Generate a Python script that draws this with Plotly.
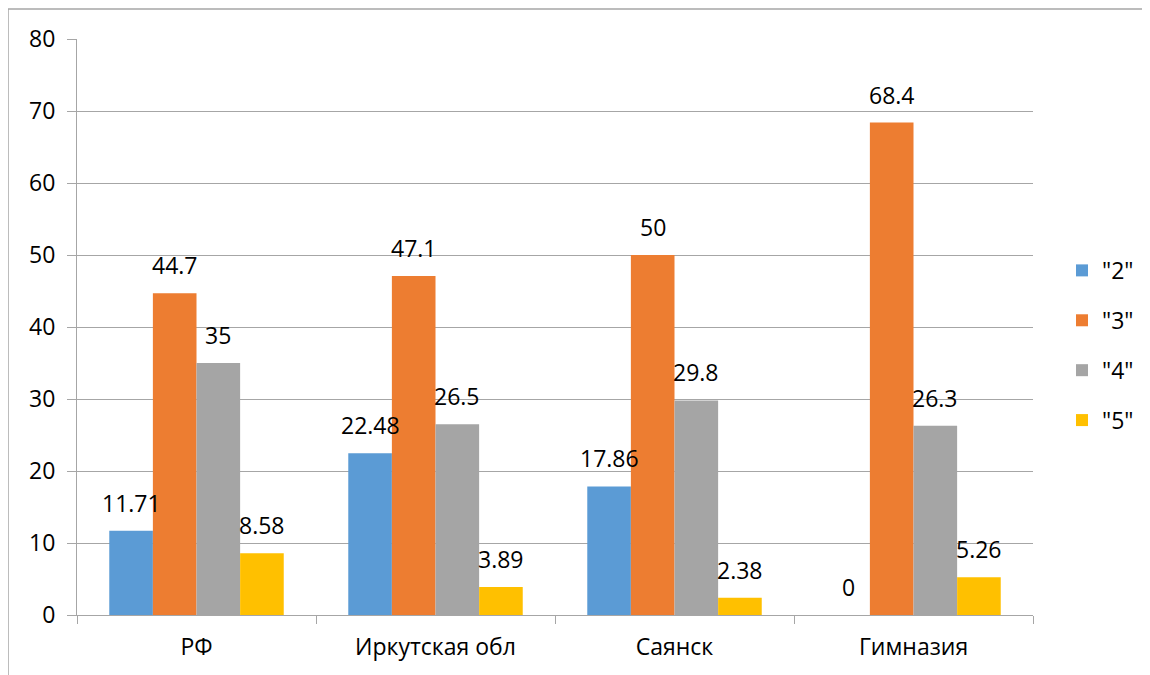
import plotly.graph_objects as go

categories = ["РФ", "Иркутская обл", "Саянск", "Гимназия"]
series_names = ['"2"', '"3"', '"4"', '"5"']
s2 = [11.71, 22.48, 17.86, 0]
s3 = [44.7, 47.1, 50, 68.4]
s4 = [35, 26.5, 29.8, 26.3]
s5 = [8.58, 3.89, 2.38, 5.26]
label_text = [
    ["11.71", "22.48", "17.86", "0"],
    ["44.7", "47.1", "50", "68.4"],
    ["35", "26.5", "29.8", "26.3"],
    ["8.58", "3.89", "2.38", "5.26"],
]
colors = ["#5B9BD5", "#ED7D31", "#A5A5A5", "#FFC000"]
y_ticks = [0, 10, 20, 30, 40, 50, 60, 70, 80]

FONT = "Open Sans, Noto Sans, sans-serif"
FS = 23

# page body has an 8px margin, so the figure is sized/offset to compensate
OFF = 8
W, H = 1150 - OFF, 675 - OFF
L, T = 77 - OFF, 39 - OFF
R = (OFF + W) - 1033
B = (OFF + H) - 615
plot_w = W - L - R
plot_h = H - T - B

fig = go.Figure()
all_series = [s2, s3, s4, s5]
for i, (name, vals) in enumerate(zip(series_names, all_series)):
    fig.add_trace(go.Bar(
        x=categories, y=vals, name=name,
        marker=dict(color=colors[i], line=dict(width=0)),
        legendgroup=f"g{i}",
    ))

# data labels
bargap = 0.27
cat_px = plot_w / len(categories)
bar_px = cat_px * (1 - bargap) / 4
for i, vals in enumerate(all_series):
    for j, v in enumerate(vals):
        fig.add_annotation(
            x=categories[j], y=v, text=label_text[i][j],
            xref="x", yref="y", showarrow=False,
            xshift=(i - 1.5) * bar_px, yshift=28,
            yanchor="middle", xanchor="center",
            font=dict(family=FONT, size=FS, color="#000000"),
        )

# chart border (only left and top edges visible in the cropped original)
bx = (8 - OFF - L) / plot_w
by = (H - B - (9 - OFF)) / plot_h
border = dict(color="#A6A6A6", width=1.5)
fig.add_shape(type="line", xref="paper", yref="paper",
              x0=bx, x1=bx, y0=-(B + 40) / plot_h, y1=by, line=border, layer="below")
fig.add_shape(type="line", xref="paper", yref="paper",
              x0=bx, x1=(W + 40 - L) / plot_w, y0=by, y1=by, line=border, layer="below")

fig.update_layout(
    width=W, height=H,
    margin=dict(l=L, r=R, t=T, b=B, autoexpand=False),
    paper_bgcolor="white", plot_bgcolor="white",
    barmode="group", bargap=bargap, bargroupgap=0,
    font=dict(family=FONT, size=FS, color="#000000"),
    showlegend=True,
    legend=dict(
        x=(1062 - OFF - L) / plot_w, xanchor="left",
        y=0.468, yanchor="middle",
        font=dict(family=FONT, size=FS, color="#000000"),
        tracegroupgap=17, bgcolor="rgba(0,0,0,0)",
    ),
    xaxis=dict(
        showgrid=False, showline=True, linecolor="#A6A6A6", linewidth=1,
        ticks="outside", tickson="boundaries", ticklen=8, tickcolor="#A6A6A6",
        tickfont=dict(family=FONT, size=FS, color="#000000"),
        ticklabelstandoff=11,
    ),
    yaxis=dict(
        range=[0, 80], tickvals=y_ticks,
        showgrid=True, gridcolor="#A6A6A6", gridwidth=1,
        showline=True, linecolor="#A6A6A6", linewidth=1,
        ticks="outside", ticklen=9, tickcolor="#A6A6A6",
        tickfont=dict(family=FONT, size=FS, color="#000000"),
        ticklabelstandoff=7, zeroline=False,
    ),
)

fig.write_html("out.html")
